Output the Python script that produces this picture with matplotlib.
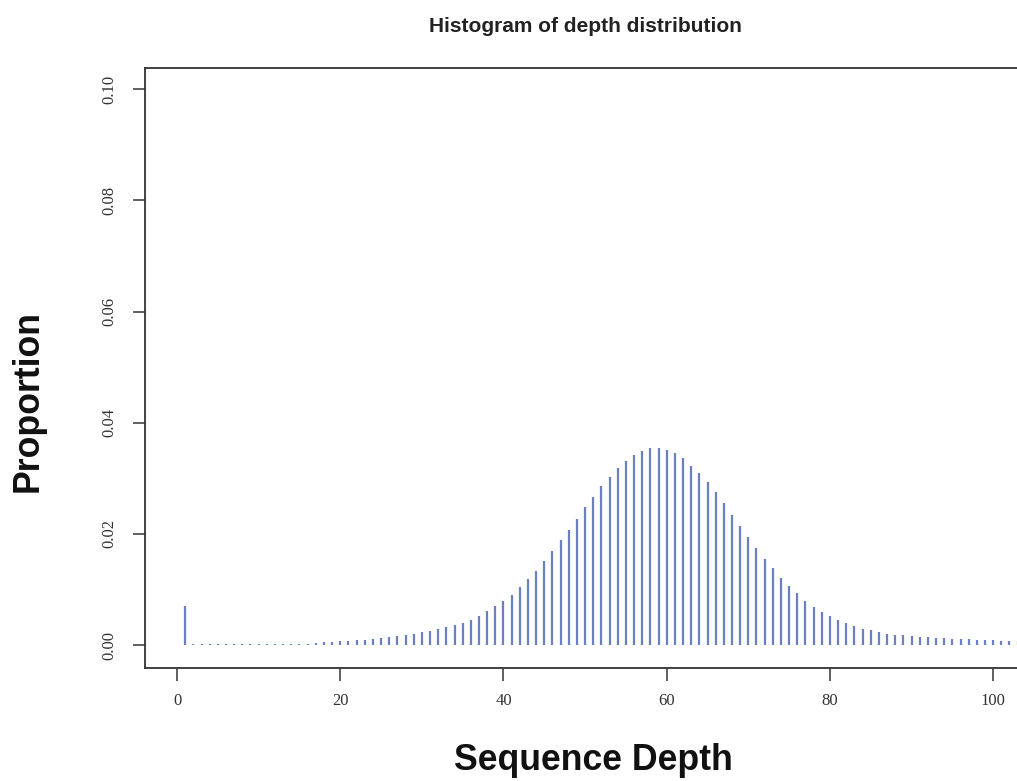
import numpy as np
import matplotlib.pyplot as plt

# proportion of positions observed at each sequence depth
depth = np.arange(1, 104)
proportion = [
    0.0071, 0.0002, 0.0002, 0.0002, 0.0002, 0.0002, 0.0002, 0.0002, 0.0002, 0.0002,
    0.0002, 0.0002, 0.0002, 0.0002, 0.0003, 0.0003, 0.0004, 0.0005, 0.0006, 0.0007,
    0.0008, 0.0009, 0.0010, 0.0012, 0.0013, 0.0015, 0.0016, 0.0018, 0.0021, 0.0023,
    0.0026, 0.0029, 0.0032, 0.0036, 0.0040, 0.0046, 0.0053, 0.0061, 0.0070, 0.0079,
    0.0090, 0.0104, 0.0119, 0.0134, 0.0151, 0.0169, 0.0189, 0.0208, 0.0227, 0.0248,
    0.0267, 0.0286, 0.0302, 0.0319, 0.0332, 0.0342, 0.0349, 0.0354, 0.0355, 0.0351,
    0.0346, 0.0336, 0.0323, 0.0309, 0.0293, 0.0275, 0.0256, 0.0235, 0.0214, 0.0194,
    0.0175, 0.0155, 0.0138, 0.0121, 0.0107, 0.0093, 0.0080, 0.0069, 0.0060, 0.0052,
    0.0046, 0.0040, 0.0035, 0.0030, 0.0027, 0.0024, 0.0021, 0.0019, 0.0018, 0.0016,
    0.0015, 0.0014, 0.0013, 0.0013, 0.0012, 0.0011, 0.0011, 0.0010, 0.0010, 0.0009,
    0.0008, 0.0007, 0.0007,
]
x_ticks = [0, 20, 40, 60, 80, 100]
y_ticks = [0.00, 0.02, 0.04, 0.06, 0.08, 0.10]

fig = plt.figure(figsize=(10.17, 7.81), dpi=100)
# plot region runs off the right edge of the figure
ax = fig.add_axes([0.1426, 0.1447, 1.0659, 0.7682])

# R-style type="h" plot: one vertical line per depth
ax.vlines(depth, 0, proportion, colors='#6c7fbf', linewidth=1.6)

ax.set_xlim(-3.92, 128.9)
ax.set_ylim(-0.0041, 0.1038)
ax.set_xticks(x_ticks)
ax.set_xticklabels([str(t) for t in x_ticks])
ax.set_yticks(y_ticks)
ax.set_yticklabels(['%.2f' % t for t in y_ticks])

for side in ['top', 'bottom', 'left', 'right']:
    ax.spines[side].set_color('#333333')
    ax.spines[side].set_linewidth(1.3)

ax.tick_params(axis='both', length=9, width=1.2, color='#444444',
               labelcolor='#333333', labelsize=12)
ax.tick_params(axis='x', pad=9)
ax.tick_params(axis='y', pad=11)
for lbl in ax.get_xticklabels() + ax.get_yticklabels():
    lbl.set_family('Liberation Serif')
for lbl in ax.get_yticklabels():
    lbl.set_rotation(90)
    lbl.set_va('center')

fig.text(585 / 1017, 1 - 27 / 781, 'Histogram of depth distribution',
         ha='center', va='center', fontsize=15, fontweight='bold',
         family='Liberation Sans', color='#222222')
fig.text(593 / 1017, 1 - 761 / 781, 'Sequence Depth',
         ha='center', va='center', fontsize=25.7, fontweight='bold',
         family='Liberation Sans', color='#111111')
fig.text(28 / 1017, 1 - 401 / 781, 'Proportion', rotation=90,
         ha='center', va='center', fontsize=25.7, fontweight='bold',
         family='Liberation Sans', color='#111111')

fig.savefig('out.png', dpi=100)
